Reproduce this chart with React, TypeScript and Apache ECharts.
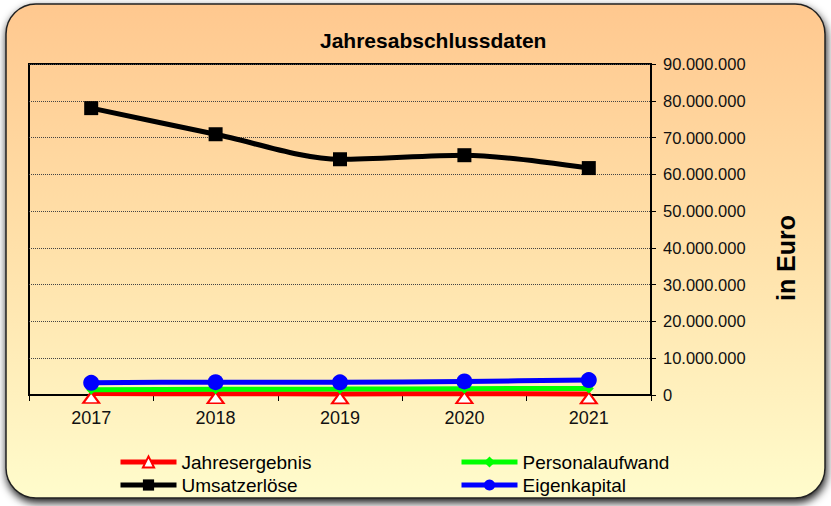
import React, { useEffect, useRef } from "react";
import * as echarts from "echarts";

const years = ["2017", "2018", "2019", "2020", "2021"];
const jahresergebnis = [400000, 350000, 300000, 350000, 300000];
const personalaufwand = [1450000, 1550000, 1600000, 1700000, 1800000];
const umsatzerloese = [78000000, 70900000, 64100000, 65200000, 61700000];
const eigenkapital = [3300000, 3500000, 3450000, 3700000, 4050000];

const FONT = "'Liberation Sans', Arial, sans-serif";

const fmt = (v: number) => String(Math.round(v)).replace(/\B(?=(\d{3})+(?!\d))/g, ".");

export default function App() {
  const ref = useRef<HTMLDivElement>(null);
  useEffect(() => {
    document.body.style.margin = "0";
    const chart = echarts.init(ref.current!, null, { renderer: "svg" });
    const legendBase = {
      orient: "vertical",
      top: 447,
      itemWidth: 56,
      itemHeight: 14,
      itemGap: 3,
      lineStyle: { width: 5 },
      textStyle: { fontSize: 19, color: "#000", fontFamily: FONT, lineHeight: 20 },
    };
    chart.setOption({
      animation: false,
      backgroundColor: "#ffffff",
      textStyle: { fontFamily: FONT },
      graphic: [
        {
          type: "rect",
          z: -10,
          silent: true,
          shape: { x: 6, y: 4, width: 819, height: 494, r: 30 },
          style: {
            fill: new echarts.graphic.LinearGradient(0, 0, 0, 1, [
              { offset: 0, color: "#FFC88F" },
              { offset: 0.5, color: "#FFE1AA" },
              { offset: 1, color: "#FFFCCC" },
            ]),
            stroke: "#222",
            lineWidth: 1.5,
            shadowBlur: 8,
            shadowOffsetY: 4,
            shadowOffsetX: 1,
            shadowColor: "rgba(0,0,0,0.9)",
          },
        },
        {
          type: "text",
          x: 786,
          y: 258,
          rotation: Math.PI / 2,
          style: {
            text: "in Euro",
            fill: "#000",
            font: `bold 25px ${FONT}`,
            align: "center",
            verticalAlign: "middle",
          },
        },
      ],
      title: {
        text: "Jahresabschlussdaten",
        left: 315,
        top: 25,
        textStyle: { fontSize: 21, fontWeight: "bold", color: "#000", fontFamily: FONT },
      },
      grid: {
        left: 29,
        right: 180,
        top: 64,
        bottom: 111,
        show: true,
        borderColor: "#000",
        borderWidth: 2,
        backgroundColor: "transparent",
      },
      legend: [
        { ...legendBase, data: ["Jahresergebnis", "Umsatzerlöse"], left: 113 },
        { ...legendBase, data: ["Personalaufwand", "Eigenkapital"], left: 454 },
      ],
      xAxis: {
        type: "category",
        data: years,
        boundaryGap: true,
        axisLine: { lineStyle: { color: "#000", width: 2 } },
        axisTick: { show: true, length: 6, lineStyle: { color: "#000", width: 1 } },
        axisLabel: { fontSize: 18, color: "#111", margin: 14, fontFamily: FONT },
        splitLine: { show: false },
      },
      yAxis: {
        type: "value",
        position: "right",
        min: 0,
        max: 90000000,
        interval: 10000000,
        axisLine: { show: true, lineStyle: { color: "#000", width: 2 } },
        axisTick: { show: true, length: 5, lineStyle: { color: "#000" } },
        axisLabel: { fontSize: 16.5, color: "#111", margin: 12, fontFamily: FONT, formatter: (v: number) => fmt(v) },
        splitLine: { show: true, lineStyle: { type: "dotted", color: "#444", width: 1 } },
      },
      series: [
        {
          name: "Jahresergebnis",
          type: "line",
          data: jahresergebnis,
          smooth: 0.3,
          clip: false,
          symbol: "triangle",
          symbolSize: [16, 11],
          symbolOffset: [0, 4],
          lineStyle: { color: "#FF0000", width: 5 },
          itemStyle: { color: "#FFFFFF", borderColor: "#FF0000", borderWidth: 2 },
          z: 2,
        },
        {
          name: "Personalaufwand",
          type: "line",
          data: personalaufwand,
          smooth: 0.3,
          clip: false,
          symbol: "diamond",
          symbolSize: 10,
          lineStyle: { color: "#00FF00", width: 5 },
          itemStyle: { color: "#00FF00" },
          z: 3,
        },
        {
          name: "Umsatzerlöse",
          type: "line",
          data: umsatzerloese,
          smooth: 0.3,
          clip: false,
          symbol: "rect",
          symbolSize: 14,
          lineStyle: { color: "#000000", width: 5 },
          itemStyle: { color: "#000000" },
          z: 4,
        },
        {
          name: "Eigenkapital",
          type: "line",
          data: eigenkapital,
          smooth: 0.3,
          clip: false,
          symbol: "circle",
          symbolSize: 16,
          lineStyle: { color: "#0000FF", width: 5 },
          itemStyle: { color: "#0000FF" },
          z: 5,
        },
      ],
    });
    return () => chart.dispose();
  }, []);
  return <div ref={ref} style={{ width: 831, height: 506 }} />;
}
